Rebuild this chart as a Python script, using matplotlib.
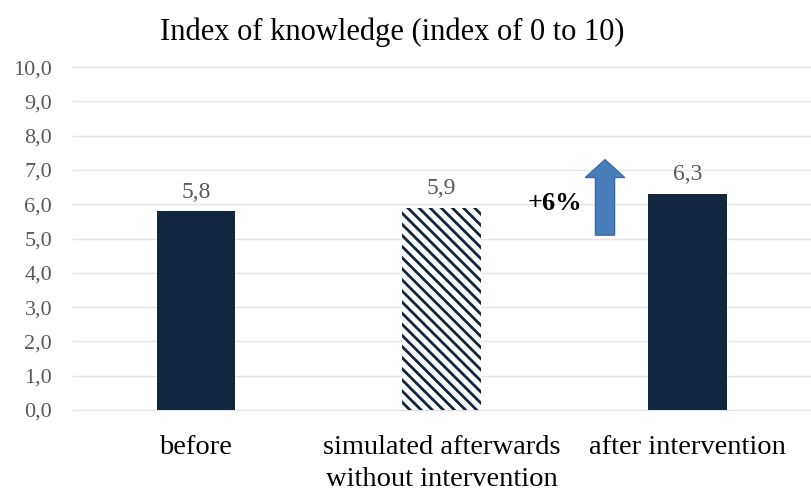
import matplotlib.pyplot as plt
import matplotlib.patches as mpatches

plt.rcParams['font.family'] = ['Liberation Serif', 'DejaVu Serif']
plt.rcParams['hatch.linewidth'] = 2.0

categories = ['before', 'simulated afterwards\nwithout intervention', 'after intervention']
values = [5.8, 5.9, 6.3]
value_labels = ['5,8', '5,9', '6,3']
yticks = [0, 1, 2, 3, 4, 5, 6, 7, 8, 9, 10]
ytick_labels = ['0,0', '1,0', '2,0', '3,0', '4,0', '5,0', '6,0', '7,0', '8,0', '9,0', '10,0']
increase_label = '+6%'

navy = '#13263f'
grey = '#595959'

fig = plt.figure(figsize=(8.11, 4.97), dpi=100)
ax = fig.add_axes([0.09, 0.175, 0.909, 0.69])

x = list(range(len(categories)))
bars = ax.bar(x, values, width=0.32, color=navy, zorder=3)
bars[1].set_facecolor('white')
bars[1].set_edgecolor(navy)
bars[1].set_hatch('\\\\\\')
bars[1].set_linewidth(0)

for xi, v, lab in zip(x, values, value_labels):
    ax.annotate(lab, (xi, v), xytext=(0, 19), textcoords='offset pixels',
                ha='center', va='center', fontsize=17, color=grey)

# arrow showing increase
ax.add_patch(mpatches.FancyArrow(1.665, 5.1, 0, 2.2, width=0.078, head_width=0.16,
                                 head_length=0.52, length_includes_head=True,
                                 facecolor='#4a7ebb', edgecolor='#3a6aa3',
                                 linewidth=1, zorder=4))
ax.text(1.572, 6.03, increase_label, ha='right', va='center', fontsize=19,
        fontweight='bold', color='black')

ax.set_xlim(-0.5, 2.5)
ax.set_ylim(0, 10)
ax.set_yticks(yticks)
ax.set_yticklabels(ytick_labels)
ax.set_xticks(x)
ax.set_xticklabels(categories, fontsize=20.5, linespacing=1.38, va='top')
ax.tick_params(axis='y', length=0, pad=15, labelsize=16, labelcolor=grey)
ax.tick_params(axis='x', length=0, pad=18, labelcolor='black')
ax.grid(axis='y', color='#e4e4e4', linewidth=1, zorder=0)
for gl in ax.get_ygridlines():
    gl.set_clip_on(False)
for s in ax.spines.values():
    s.set_visible(False)

fig.text(0.484, 0.936, 'Index of knowledge (index of 0 to 10)', ha='center',
         va='center', fontsize=22)

fig.savefig('out.png', dpi=100)
